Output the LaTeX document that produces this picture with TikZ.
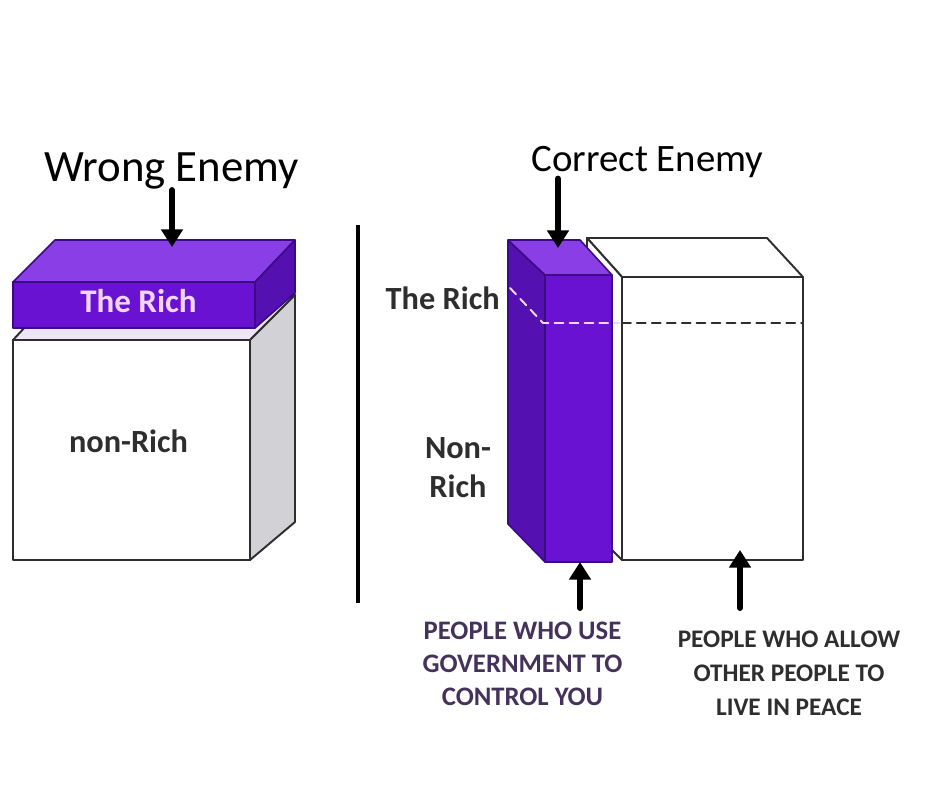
\documentclass[tikz,border=0pt]{standalone}
\usepackage{fontspec}
\setmainfont{Carlito}
\usetikzlibrary{arrows.meta}
\definecolor{ink}{HTML}{2E2E2E}
\definecolor{richtop}{HTML}{8A3FE6}
\definecolor{richfront}{HTML}{6A12D2}
\definecolor{richside}{HTML}{5410B0}
\definecolor{richedge}{HTML}{3C0A86}
\definecolor{sidegray}{HTML}{D2D1D6}
\definecolor{topwash}{HTML}{EEE6F8}
\definecolor{lavtext}{HTML}{F2D6FA}
\definecolor{govtext}{HTML}{45325A}
\tikzset{
  every picture/.style={line cap=round, line join=round},
  face/.style={draw=ink, line width=1.1pt},
  whiteface/.style={face, fill=white},
  grayface/.style={face, fill=sidegray},
  washface/.style={face, fill=topwash},
  rface/.style={draw=richedge, line width=0.9pt, fill=#1},
  pointer/.style={-{Triangle[width=12pt, length=10pt]}, line width=3.4pt, black},
  cut/.style={dash pattern=on 5pt off 3.5pt, line width=1.1pt},
  title/.style={anchor=base, inner sep=0pt, text=black},
  tag/.style={anchor=base, inner sep=0pt, font=\fontsize{18.4}{22.1}\selectfont\bfseries, text=ink, align=center},
  foot/.style={anchor=base, inner sep=0pt, align=center, font=\bfseries},
}

\begin{document}
\begin{tikzpicture}[x=0.02cm, y=-0.02cm]
  \fill[white] (0,0) rectangle (950,807);
  \useasboundingbox (0,0) rectangle (950,807);
  % left: non-rich block
  \draw[washface] (13,340) -- (55,295) -- (295,295) -- (250,340) -- cycle;
  \draw[grayface] (250,340) -- (295,295) -- (295,522) -- (250,560) -- cycle;
  \draw[whiteface] (13,340) rectangle (250,560);
  % left: the rich slab on top
  \draw[rface=richtop] (13,282) -- (55,240) -- (295,240) -- (255,282) -- cycle;
  \draw[rface=richside] (255,282) -- (295,240) -- (295,293) -- (255,328) -- cycle;
  \draw[rface=richfront] (13,282) rectangle (255,328);
  \node[title, font=\fontsize{25.5}{30}\selectfont] (wrong) at (171.5,182) {Wrong Enemy};
  \node[tag, text=lavtext, font=\fontsize{18.8}{22}\selectfont\bfseries] (slabtag) at (138.5,313) {The Rich};
  \node[tag] (nonrich) at (128.5,453) {non-Rich};
  \coordinate (slabtop) at (172,247);
  \draw[pointer] (slabtop |- wrong.south) -- (slabtop);
  % divider
  \draw[line width=2.8pt, black, line cap=butt] (358,225) -- (358,603);
  % right: everybody else
  \draw[whiteface] (587,238) -- (767,238) -- (803,277) -- (622,277) -- cycle;
  \draw[whiteface] (587,238) -- (622,277) -- (622,560) -- (587,525) -- cycle;
  \draw[whiteface] (622,277) rectangle (803,560);
  \draw[cut, ink] (622,323) -- (803,323);
  % right: the thin column
  \draw[rface=richside] (508,240) -- (545,275) -- (545,562) -- (508,524) -- cycle;
  \draw[rface=richtop] (508,240) -- (580,240) -- (612,275) -- (545,275) -- cycle;
  \draw[rface=richfront] (545,275) rectangle (612,562);
  \draw[cut, lavtext] (510,288) -- (543,323) -- (620,323);
  \node[title, font=\fontsize{22.1}{26}\selectfont] (correct) at (647.5,172) {Correct Enemy};
  \node[tag, anchor=base east] (richtag) at (500,310) {The Rich};
  \node[tag] (nonrichtag) at (458,497) {Non-\\Rich};
  \coordinate (coltop) at (558,248);
  \draw[pointer] (coltop |- correct.south) -- (coltop);
  % captions under the blocks (base = last line)
  \node[foot, text=govtext, font=\fontsize{15.2}{18.7}\selectfont\bfseries] (usegov) at (522.5,705)
    {PEOPLE WHO USE\\GOVERNMENT TO\\CONTROL YOU};
  \node[foot, text=ink, font=\fontsize{14.4}{19.3}\selectfont\bfseries] (allowpeace) at (789,715)
    {PEOPLE WHO ALLOW\\OTHER PEOPLE TO\\LIVE IN PEACE};
  \coordinate (govfoot) at (580,608);
  \coordinate (govtip) at (580,562);
  \coordinate (peacefoot) at (740,608);
  \coordinate (peacetip) at (740,550);
  \draw[pointer] (govfoot) -- (govtip);
  \draw[pointer] (peacefoot) -- (peacetip);
\end{tikzpicture}
\end{document}
